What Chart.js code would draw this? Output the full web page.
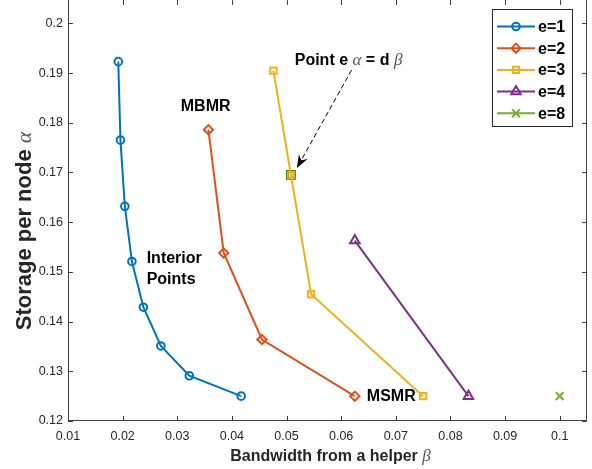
<!DOCTYPE html>
<html>
<head>
<meta charset="utf-8">
<script src="https://cdn.jsdelivr.net/npm/chart.js@4.4.0/dist/chart.umd.min.js"></script>
<style>
  html, body { margin: 0; padding: 0; background: #fff; }
</style>
</head>
<body>
<canvas id="myChart" width="592" height="469"></canvas>
<script>
// series labels
const seriesNames = ['e=1', 'e=2', 'e=3', 'e=4', 'e=8'];

// bandwidth from a helper (beta) and storage per node (alpha)
const e1Beta  = [0.0192, 0.0196, 0.0204, 0.0217, 0.0238, 0.0270, 0.0322, 0.0417];
const e1Alpha = [0.1923, 0.1765, 0.1632, 0.1521, 0.1429, 0.1351, 0.1291, 0.1250];
const e2Beta  = [0.0357, 0.0385, 0.0455, 0.0625];
const e2Alpha = [0.1786, 0.1538, 0.1364, 0.1250];
const e3Beta  = [0.0476, 0.0508, 0.0545, 0.0750];
const e3Alpha = [0.1905, 0.1695, 0.1455, 0.1250];
const e4Beta  = [0.0625, 0.0833];
const e4Alpha = [0.1563, 0.1250];
const e8Beta  = [0.1000];
const e8Alpha = [0.1250];

// the point where e*alpha = d*beta
const markBeta  = [0.0508];
const markAlpha = [0.1695];

const xTicks = [0.01, 0.02, 0.03, 0.04, 0.05, 0.06, 0.07, 0.08, 0.09, 0.1];
const yTicks = [0.12, 0.13, 0.14, 0.15, 0.16, 0.17, 0.18, 0.19, 0.2];

const colors = ['#0072BD', '#D95319', '#EDB120', '#7E2F8E', '#77AC30'];
const markers = [
    { style: 'circle', r: 3.8 },
    { style: 'rectRot', r: 4.6 },
    { style: 'rect', r: 4.5 },
    { style: 'triangle', r: 5.5 },
    { style: 'crossRot', r: 5.5 }
];

function pts(xs, ys) {
    return xs.map((x, i) => ({ x: x, y: ys[i] }));
}

const allSeries = [[e1Beta, e1Alpha], [e2Beta, e2Alpha], [e3Beta, e3Alpha], [e4Beta, e4Alpha], [e8Beta, e8Alpha]];

const datasets = allSeries.map((s, i) => ({
    label: seriesNames[i],
    data: pts(s[0], s[1]),
    showLine: true,
    borderColor: colors[i],
    borderWidth: 2,
    backgroundColor: 'rgba(0,0,0,0)',
    pointStyle: markers[i].style,
    pointRadius: markers[i].r,
    pointBorderWidth: 2,
    pointBorderColor: colors[i],
    pointBackgroundColor: 'rgba(0,0,0,0)',
    tension: 0
}));

datasets.push({
    label: 'mark',
    data: pts(markBeta, markAlpha),
    showLine: false,
    pointStyle: 'rect',
    pointRadius: 4.8,
    pointBorderWidth: 3,
    pointBorderColor: '#007800',
    pointBackgroundColor: 'rgba(0,0,0,0)'
});

// text notes, placed in data units
const notes = [
    { x: 0.0352, y: 0.1832, align: 'center', parts: [['MBMR', 'b']] },
    { x: 0.0244, y: 0.1526, align: 'left', parts: [['Interior', 'b']] },
    { x: 0.0244, y: 0.1484, align: 'left', parts: [['Points', 'b']] },
    { x: 0.0647, y: 0.1249, align: 'left', parts: [['MSMR', 'b']] },
    { x: 0.0515, y: 0.1926, align: 'left', parts: [['Point e ', 'b'], ['\u03b1', 'g'], [' = d ', 'b'], ['\u03b2', 'g']] }
];
const arrow = { x0: 0.0619, y0: 0.1906, x1: 0.0519, y1: 0.1709 };

const fonts = {
    b: { font: 'bold 16px "Liberation Sans", Arial, sans-serif', color: '#000' },
    t: { font: 'bold 16px "Liberation Sans", Arial, sans-serif', color: '#262626' },
    ty: { font: 'bold 22px "Liberation Sans", Arial, sans-serif', color: '#262626' },
    g: { font: 'italic 17px "Liberation Serif", "DejaVu Serif", serif', color: '#555' },
    gy: { font: 'italic 22px "Liberation Serif", "DejaVu Serif", serif', color: '#555' }
};

function drawParts(c, parts, x, y, align) {
    const widths = parts.map(p => { c.font = fonts[p[1]].font; return c.measureText(p[0]).width; });
    const total = widths.reduce((a, b) => a + b, 0);
    let cx = align === 'center' ? x - total / 2 : x;
    c.textBaseline = 'middle';
    c.textAlign = 'left';
    parts.forEach((p, i) => {
        const f = fonts[p[1]];
        c.font = f.font;
        c.fillStyle = f.color;
        c.fillText(p[0], cx, y);
        cx += widths[i];
    });
}

const decor = {
    id: 'decor',
    afterDatasetsDraw(chart) {
        const c = chart.ctx;
        const a = chart.chartArea;
        const xs = chart.scales.x, ys = chart.scales.y;
        c.save();

        // box and inward ticks
        c.strokeStyle = '#404040';
        c.lineWidth = 1;
        c.beginPath();
        c.moveTo(a.left + 0.5, a.top);
        c.lineTo(a.left + 0.5, a.bottom - 0.5);
        c.lineTo(a.right - 0.5, a.bottom - 0.5);
        c.lineTo(a.right - 0.5, a.top);
        xTicks.forEach(v => {
            const px = Math.round(xs.getPixelForValue(v)) + 0.5;
            c.moveTo(px, a.bottom); c.lineTo(px, a.bottom - 5);
            c.moveTo(px, a.top); c.lineTo(px, a.top + 5);
        });
        yTicks.forEach(v => {
            const py = Math.round(ys.getPixelForValue(v)) + 0.5;
            c.moveTo(a.left, py); c.lineTo(a.left + 5, py);
            c.moveTo(a.right, py); c.lineTo(a.right - 5, py);
        });
        c.stroke();

        // notes
        notes.forEach(n => {
            drawParts(c, n.parts, xs.getPixelForValue(n.x), ys.getPixelForValue(n.y), n.align);
        });

        // dashed arrow
        const ax0 = xs.getPixelForValue(arrow.x0), ay0 = ys.getPixelForValue(arrow.y0);
        const ax1 = xs.getPixelForValue(arrow.x1), ay1 = ys.getPixelForValue(arrow.y1);
        const ang = Math.atan2(ay1 - ay0, ax1 - ax0);
        const cs = Math.cos(ang), sn = Math.sin(ang);
        c.strokeStyle = '#000';
        c.lineWidth = 1;
        c.setLineDash([5, 3]);
        c.beginPath();
        c.moveTo(ax0, ay0);
        c.lineTo(ax1 - 9 * cs, ay1 - 9 * sn);
        c.stroke();
        c.setLineDash([]);
        c.fillStyle = '#000';
        c.beginPath();
        c.moveTo(ax1, ay1);
        c.lineTo(ax1 - 13 * cs + 5 * sn, ay1 - 13 * sn - 5 * cs);
        c.lineTo(ax1 - 9 * cs, ay1 - 9 * sn);
        c.lineTo(ax1 - 13 * cs - 5 * sn, ay1 - 13 * sn + 5 * cs);
        c.closePath();
        c.fill();

        // axis titles
        drawParts(c, [['Bandwidth from a helper ', 't'], ['\u03b2', 'g']], (a.left + a.right) / 2 + 3, 457, 'center');
        c.save();
        c.translate(25, 231);
        c.rotate(-Math.PI / 2);
        drawParts(c, [['Storage per node ', 'ty'], ['\u03b1', 'gy']], 0, 0, 'center');
        c.restore();

        // legend
        const lx = 492, ly = 9, lw = 81, lh = 118;
        c.fillStyle = '#fff';
        c.fillRect(lx, ly, lw, lh);
        c.strokeStyle = '#262626';
        c.lineWidth = 1;
        c.strokeRect(lx + 0.5, ly + 0.5, lw - 1, lh - 1);
        seriesNames.forEach((name, i) => {
            const y = 26.5 + i * 21.7;
            c.strokeStyle = colors[i];
            c.lineWidth = 2;
            c.beginPath();
            c.moveTo(497, y); c.lineTo(535, y);
            c.stroke();
            c.fillStyle = 'rgba(0,0,0,0)';
            Chart.helpers.drawPoint(c, { pointStyle: markers[i].style, radius: markers[i].r, rotation: 0, borderWidth: 2 }, 516, y);
            drawParts(c, [[name, 'b']], 538, y + 1, 'left');
        });

        c.restore();
    }
};

const ctx = document.getElementById('myChart');
const myChart = new Chart(ctx, {
    type: 'scatter',
    data: { datasets: datasets },
    options: {
        responsive: false,
        animation: false,
        layout: { autoPadding: false, padding: { top: 0, right: 5, left: 0, bottom: 0 } },
        plugins: { legend: { display: false }, tooltip: { enabled: false } },
        scales: {
            x: {
                type: 'linear',
                min: 0.01,
                max: 0.105,
                grid: { display: false, drawTicks: false },
                border: { display: false },
                afterBuildTicks: s => { s.ticks = xTicks.map(v => ({ value: v })); },
                afterFit: s => { s.height = 48; s.paddingLeft = 0; s.paddingRight = 0; },
                ticks: {
                    padding: 8,
                    color: '#262626',
                    font: { family: '"Liberation Sans", Arial, sans-serif', size: 12.5 },
                    callback: v => String(Number(v.toFixed(3)))
                }
            },
            y: {
                type: 'linear',
                min: 0.12,
                max: 0.2047,
                grid: { display: false, drawTicks: false },
                border: { display: false },
                afterBuildTicks: s => { s.ticks = yTicks.map(v => ({ value: v })); },
                afterFit: s => { s.width = 68; s.paddingTop = 0; s.paddingBottom = 0; },
                ticks: {
                    padding: 5,
                    color: '#262626',
                    font: { family: '"Liberation Sans", Arial, sans-serif', size: 12.5 },
                    callback: v => String(Number(v.toFixed(3)))
                }
            }
        }
    },
    plugins: [decor]
});
</script>
</body>
</html>
